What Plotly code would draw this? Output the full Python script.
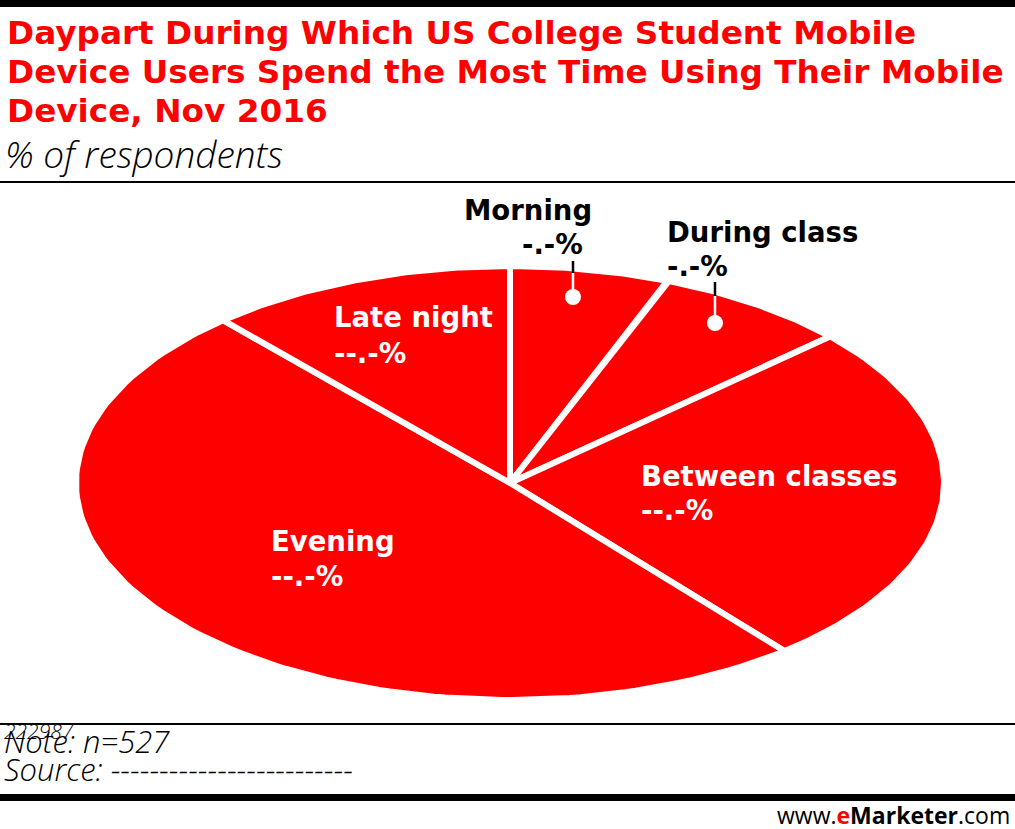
import numpy as np
import plotly.graph_objects as go

# data
dayparts = ['Morning', 'During class', 'Between classes', 'Evening', 'Late night']
shares = [5.9, 7.3, 25.9, 49.4, 11.5]
value_labels = ['-.-%', '-.-%', '--.-%', '--.-%', '--.-%']

W, H = 1015, 829
RED = '#ff0000'
BOLD = 'DejaVu Sans'
LIGHT = 'Open Sans'

# ellipse in pixel space (tilted pie)
cx, cy = 510, 483
ax_r, ay_r = 434, 217

fig = go.Figure()

start = 90.0
for name, val in zip(dayparts, shares):
    sweep = val / sum(shares) * 360
    t = np.radians(np.linspace(start, start - sweep, 120))
    xs = np.concatenate([[cx], cx + ax_r * np.cos(t), [cx]])
    ys = np.concatenate([[cy], cy - ay_r * np.sin(t), [cy]])
    fig.add_trace(go.Scatter(x=xs, y=ys, fill='toself', fillcolor=RED, mode='lines',
                             line=dict(color='white', width=6), name=name,
                             hoverinfo='name', showlegend=False))
    start -= sweep

# label placement (left edge of text, centre of first line)
label_pos = {
    'Morning': (462, 210, 520, 244, 'black'),
    'During class': (665, 232, 665, 266, 'black'),
    'Between classes': (639, 476, 639, 510, 'white'),
    'Evening': (269, 541, 269, 576, 'white'),
    'Late night': (332, 317, 332, 353, 'white'),
}
for name, lab in zip(dayparts, value_labels):
    x1, y1, x2, y2, col = label_pos[name]
    fig.add_annotation(x=x1, y=y1, text=name, showarrow=False, xanchor='left',
                       yanchor='middle', font=dict(family=BOLD, size=27.5, weight=700, color=col))
    fig.add_annotation(x=x2, y=y2, text=lab, showarrow=False, xanchor='left',
                       yanchor='middle', font=dict(family=BOLD, size=27.5, weight=700, color=col))

# leader lines for the two small slices
for lx, top, edge, dot in [(573, 261, 273, 297), (715, 282, 296, 323)]:
    fig.add_shape(type='line', x0=lx, x1=lx, y0=top, y1=edge, line=dict(color='black', width=2.5))
    fig.add_shape(type='line', x0=lx, x1=lx, y0=edge, y1=dot, line=dict(color='white', width=2.5))
    fig.add_shape(type='circle', x0=lx - 8, x1=lx + 8, y0=dot - 8, y1=dot + 8,
                  fillcolor='white', line=dict(width=0))

# title block
title_lines = ['Daypart During Which US College Student Mobile',
               'Device Users Spend the Most Time Using Their Mobile',
               'Device, Nov 2016']
for i, line in enumerate(title_lines):
    fig.add_annotation(x=5, y=33 + i * 39, xanchor='left', yanchor='middle', showarrow=False,
                       text=line, font=dict(family=BOLD, size=32.7, weight=700, color=RED))
fig.add_annotation(x=3, y=153, xanchor='left', yanchor='middle', showarrow=False,
                   text='% of respondents',
                   font=dict(family=LIGHT, size=37, weight=300, style='italic', color='black'))

# rules
fig.add_shape(type='rect', x0=0, x1=W, y0=0, y1=7, fillcolor='black', line=dict(width=0))
fig.add_shape(type='line', x0=0, x1=W, y0=182, y1=182, line=dict(color='black', width=2))
fig.add_shape(type='line', x0=0, x1=W, y0=724, y1=724, line=dict(color='black', width=2))
fig.add_shape(type='rect', x0=0, x1=W, y0=794, y1=801, fillcolor='black', line=dict(width=0))

# footer
fig.add_annotation(x=2, y=731, xanchor='left', yanchor='middle', showarrow=False,
                   text='222987', font=dict(family=LIGHT, size=21, weight=300, style='italic', color='black'))
fig.add_annotation(x=2, y=741, xanchor='left', yanchor='middle', showarrow=False,
                   text='Note: n=527', font=dict(family=LIGHT, size=31, weight=300, style='italic', color='black'))
fig.add_annotation(x=2, y=769, xanchor='left', yanchor='middle', showarrow=False,
                   text='Source: -------------------------',
                   font=dict(family=LIGHT, size=31, weight=300, style='italic', color='black'))
fig.add_annotation(x=1012, y=815, xanchor='right', yanchor='middle', showarrow=False,
                   text='www.<b><span style="color:#ff0000">e</span>Marketer</b>.com',
                   font=dict(family=LIGHT, size=23, color='black'))

fig.update_xaxes(range=[0, W], visible=False, fixedrange=True)
fig.update_yaxes(range=[H, 0], visible=False, fixedrange=True)
fig.update_layout(width=W, height=H, margin=dict(l=0, r=0, t=0, b=0),
                  plot_bgcolor='white', paper_bgcolor='white')

fig.write_html('out.html', config={'displayModeBar': False},
               post_script="document.body.style.margin='0';")
